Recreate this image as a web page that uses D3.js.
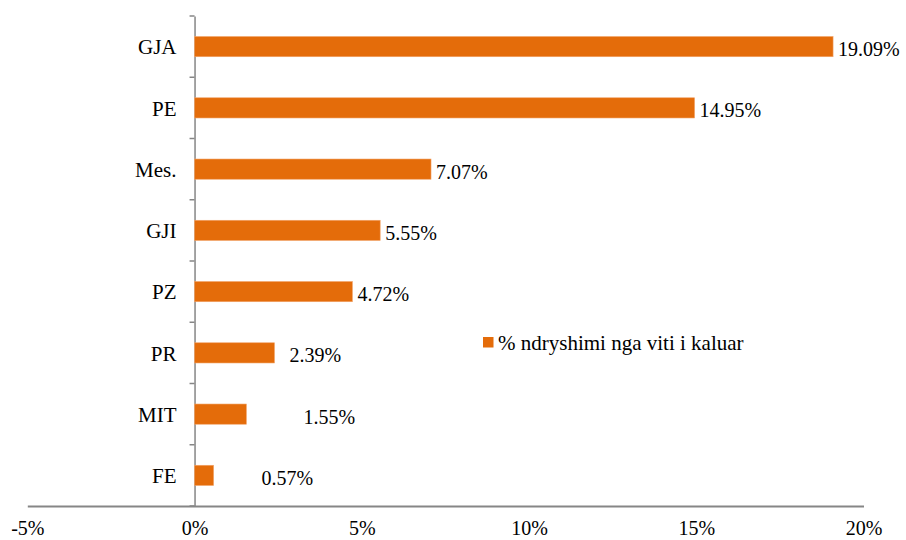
<!DOCTYPE html>
<html>
<head>
<meta charset="utf-8">
<script src="https://cdn.jsdelivr.net/npm/d3@7"></script>
<style>
  body { margin: 0; background: #fff; }
</style>
</head>
<body>
<div id="graphic"></div>
<script>
// categories top to bottom, values in %
var categories = ["GJA", "PE", "Mes.", "GJI", "PZ", "PR", "MIT", "FE"];
var values = [19.09, 14.95, 7.07, 5.55, 4.72, 2.39, 1.55, 0.57];
var xTicks = [-5, 0, 5, 10, 15, 20];
var seriesName = "% ndryshimi nga viti i kaluar";

// hand placed labels in the original (extra px to the right)
var labelNudge = {"PR": 10, "MIT": 52, "FE": 43};

var data = categories.map((c, i) => ({cat: c, value: values[i]}));

var width = 906, height = 540;
var top_ = 16, bottom = 506;
var axisColor = "#868686";

var svg = d3.select("#graphic").append("svg")
    .attr("width", width)
    .attr("height", height);

var x = d3.scaleLinear()
    .domain([-5, 20])
    .range([27.3, 863.5]);

var y = d3.scaleBand()
    .domain(categories)
    .range([top_, bottom])
    .paddingInner(0.67)
    .paddingOuter(0.335);

//x axis line + labels, no ticks
var gx = svg.append("g")
    .attr("transform", "translate(0," + bottom + ")")
    .call(d3.axisBottom(x).tickValues(xTicks).tickSize(0).tickPadding(14.5).tickFormat(d => d + "%"));
gx.select(".domain").attr("stroke", axisColor).attr("stroke-width", 2);
gx.selectAll(".tick text").attr("class", "num");

//y axis at 0, labels only
var gy = svg.append("g")
    .attr("transform", "translate(" + x(0) + ",0)")
    .call(d3.axisLeft(y).tickSize(0).tickPadding(18));
gy.select(".domain").attr("stroke", axisColor).attr("stroke-width", 1.5);
gy.selectAll(".tick text").attr("dy", "0.37em");

// tick marks between categories
gy.selectAll(".sep")
    .data(d3.range(categories.length + 1))
    .enter().append("line")
    .attr("class", "sep")
    .attr("x1", -5).attr("x2", 0)
    .attr("y1", i => top_ + i * y.step())
    .attr("y2", i => top_ + i * y.step())
    .attr("stroke", axisColor)
    .attr("stroke-width", 1.5);

var bars = svg.selectAll(".bar")
    .data(data)
    .enter()
    .append("g")
    .attr("class", "bar");

bars.append("rect")
    .attr("x", x(0))
    .attr("y", d => y(d.cat))
    .attr("width", d => x(d.value) - x(0))
    .attr("height", y.bandwidth())
    .attr("fill", "#E46C0A")
    .attr("stroke", "#F2A46A")
    .attr("stroke-width", 0.6);

bars.append("text")
    .attr("class", "num")
    .attr("x", d => x(d.value) + 5 + (labelNudge[d.cat] || 0))
    .attr("y", d => y(d.cat) + y.bandwidth() / 2)
    .attr("dy", "0.47em")
    .text(d => d.value.toFixed(2) + "%");

// legend
var legend = svg.append("g")
    .attr("transform", "translate(483,337)");
legend.append("rect")
    .attr("width", 10.5).attr("height", 10.5)
    .attr("fill", "#E46C0A");
legend.append("text")
    .attr("x", 15)
    .attr("y", 5)
    .attr("dy", "0.38em")
    .text(seriesName);

// one font for everything, numbers a touch smaller
svg.selectAll("g").attr("font-family", null).attr("font-size", null);
svg.selectAll("text")
    .attr("font-family", "Liberation Serif")
    .attr("font-size", 21)
    .attr("fill", "#000");
svg.selectAll("text.num").attr("font-size", 20);
</script>
</body>
</html>
